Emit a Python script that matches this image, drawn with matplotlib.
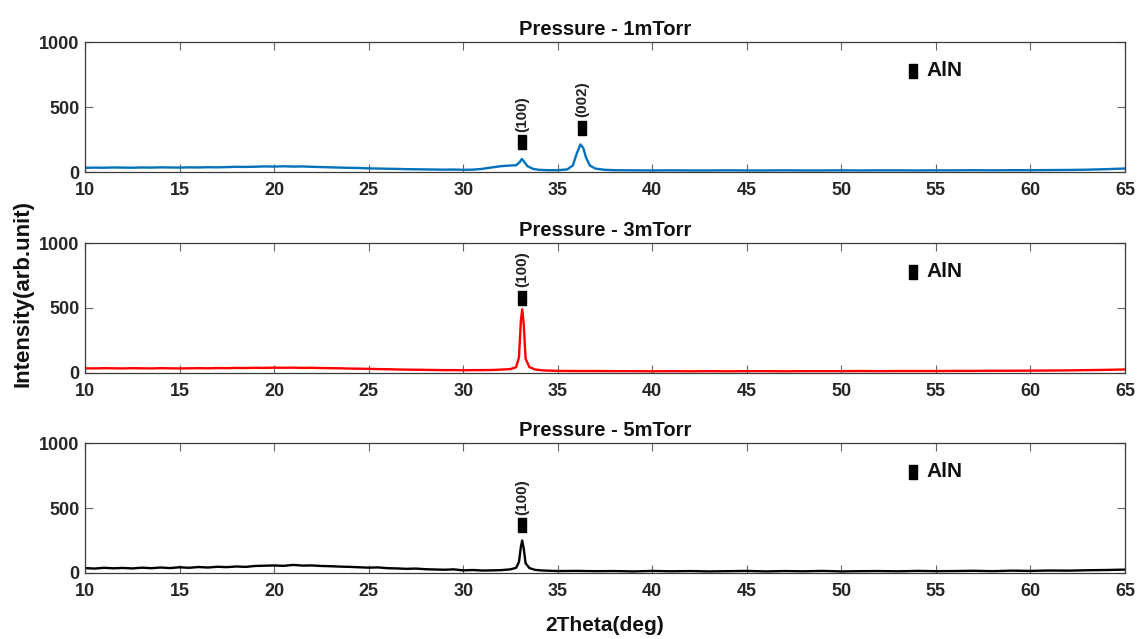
import matplotlib.pyplot as plt

plt.rcParams['font.family'] = ['Liberation Sans', 'DejaVu Sans']
plt.rcParams['font.weight'] = 'bold'

# background grid shared by the three scans (deg)
bg_theta = [10, 10.5, 11, 11.5, 12, 12.5, 13, 13.5, 14, 14.5, 15, 15.5, 16, 16.5,
            17, 17.5, 18, 18.5, 19, 19.5, 20, 20.5, 21, 21.5, 22, 22.5, 23, 23.5,
            24, 24.5, 25, 25.5, 26, 26.5, 27, 27.5, 28, 28.5, 29, 29.5, 30, 30.5, 31]
tail_theta = [38, 39, 40, 41, 42, 43, 44, 45, 46, 47, 48, 49, 50, 51, 52, 53,
              54, 55, 56, 57, 58, 59, 60, 61, 62, 63, 64, 65]

# 1 mTorr
peak1_theta = [31.5, 32, 32.5, 32.8, 33.0, 33.1, 33.2, 33.4, 33.7, 34, 34.5, 35,
               35.5, 35.8, 36.0, 36.2, 36.35, 36.5, 36.7, 37, 37.5]
bg1 = [32, 34, 33, 35, 34, 33, 35, 34, 36, 35, 34, 36, 35, 37, 36, 38, 40, 39,
       41, 43, 42, 44, 42, 43, 40, 38, 36, 34, 32, 31, 28, 27, 25, 24, 22, 21,
       20, 19, 18, 19, 17, 18, 24]
peak1 = [35, 45, 50, 52, 78, 100, 84, 45, 24, 17, 14, 14, 20, 50, 140, 212,
         185, 110, 50, 26, 17]
tail1 = [14, 13, 12, 13, 12, 12, 13, 12, 12, 13, 12, 12, 13, 12, 13, 13, 12,
         13, 13, 14, 13, 14, 14, 15, 16, 18, 22, 27]

# 3 mTorr
peak2_theta = [31.5, 32, 32.5, 32.8, 32.95, 33.05, 33.12, 33.2, 33.3, 33.5,
               33.8, 34.2, 35, 36, 37]
bg2 = [36, 35, 37, 36, 35, 37, 36, 35, 37, 36, 35, 36, 37, 36, 38, 37, 39, 38,
       40, 39, 41, 40, 41, 39, 40, 38, 37, 36, 34, 33, 32, 30, 29, 27, 26, 25,
       24, 23, 22, 22, 21, 22, 22]
peak2 = [23, 26, 30, 45, 120, 400, 490, 380, 110, 45, 27, 20, 16, 15, 15]
tail2 = [14, 14, 13, 14, 13, 14, 13, 14, 14, 13, 14, 14, 14, 15, 14, 15, 15,
         15, 16, 16, 17, 17, 18, 19, 20, 22, 24, 27]

# 5 mTorr
peak3_theta = [31.5, 32, 32.5, 32.8, 32.95, 33.05, 33.12, 33.2, 33.3, 33.5,
               33.8, 34.2, 35, 36, 37]
bg3 = [38, 34, 40, 36, 39, 35, 41, 37, 42, 38, 44, 40, 46, 42, 48, 45, 50, 47,
       54, 56, 58, 55, 62, 57, 58, 54, 52, 49, 47, 44, 41, 43, 37, 35, 32, 34,
       29, 27, 25, 28, 20, 23, 19]
peak3 = [20, 22, 28, 40, 85, 200, 250, 190, 75, 38, 24, 19, 15, 16, 14]
tail3 = [15, 12, 16, 13, 15, 12, 14, 16, 12, 15, 13, 16, 12, 14, 15, 13, 16,
         14, 15, 17, 14, 18, 16, 19, 18, 21, 23, 26]

# reflection labels: (position, marker height, label)
refl1 = [(33.1, 230, '(100)'), (36.3, 340, '(002)')]
refl2 = [(33.1, 580, '(100)')]
refl3 = [(33.1, 370, '(100)')]

titles = ['Pressure - 1mTorr', 'Pressure - 3mTorr', 'Pressure - 5mTorr']
colors = ['#0072BD', '#FF0000', '#000000']
xticks = [10, 15, 20, 25, 30, 35, 40, 45, 50, 55, 60, 65]
yticks = [0, 500, 1000]

series = [
    (bg_theta + peak1_theta + tail_theta, bg1 + peak1 + tail1, refl1),
    (bg_theta + peak2_theta + tail_theta, bg2 + peak2 + tail2, refl2),
    (bg_theta + peak3_theta + tail_theta, bg3 + peak3 + tail3, refl3),
]

# narrow upright bar used to tag AlN reflections
bar = [(-0.32, -0.55), (0.32, -0.55), (0.32, 0.55), (-0.32, 0.55), (-0.32, -0.55)]

fig = plt.figure(figsize=(11.37, 6.39), dpi=100)
bottoms = [0.7308, 0.4163, 0.1033]
axes = []
for i, (x, y, refl) in enumerate(series):
    ax = fig.add_axes([0.0748, bottoms[i], 0.9146, 0.2034])
    axes.append(ax)
    ax.plot(x, y, color=colors[i], lw=1.7)
    for pos, h, lab in refl:
        ax.plot([pos], [h], marker=bar, color='k', ms=9.5, ls='none')
        ax.text(pos, h + 80, lab, rotation=90, ha='center', va='bottom',
                fontsize=11, fontweight='bold', color='#222222')
    ax.plot([53.8], [780], marker=bar, color='k', ms=9.5, ls='none')
    ax.text(54.5, 780, 'AlN', ha='left', va='center', fontsize=15,
            fontweight='bold', color='#111111')
    ax.set_xlim(10, 65)
    ax.set_ylim(0, 1000)
    ax.set_xticks(xticks)
    ax.set_yticks(yticks)
    ax.tick_params(direction='in', top=True, right=True, length=6, width=0.8,
                   color='#666666', labelsize=13)
    ax.tick_params(axis='x', pad=7)
    ax.tick_params(axis='y', pad=4)
    for lbl in ax.get_xticklabels() + ax.get_yticklabels():
        lbl.set_fontweight('bold')
        lbl.set_color('#262626')
    for s in ax.spines.values():
        s.set_color('#3a3a3a')
        s.set_linewidth(0.9)
    ax.set_title(titles[i], fontsize=14.5, fontweight='bold', pad=5,
                 color='#111111')

axes[2].set_xlabel('2Theta(deg)', fontsize=15, fontweight='bold', labelpad=12,
                   color='#111111')
fig.text(0.02, 0.541, 'Intensity(arb.unit)', rotation=90, ha='center',
         va='center', fontsize=16, fontweight='bold', color='#111111')

fig.savefig('out.png', dpi=100)
